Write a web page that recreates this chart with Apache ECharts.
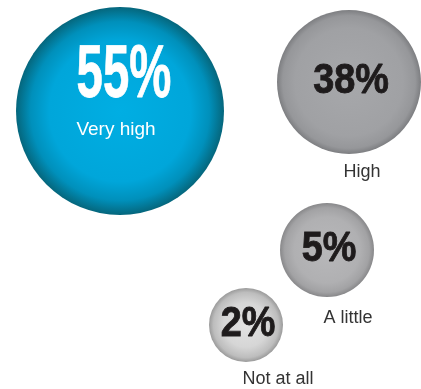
<!DOCTYPE html>
<html lang="en">
<head>
<meta charset="UTF-8">
<title>Bubbles</title>
<script src="https://cdn.jsdelivr.net/npm/echarts@6/dist/echarts.min.js"></script>
<style>
    html, body { margin: 0; padding: 0; background: #ffffff; }
    #chart { width: 421px; height: 389px; }
</style>
</head>
<body>
<div id="chart"></div>
<script>
    // 数据
    var categories = ['Very high', 'High', 'A little', 'Not at all'];
    var percents = [55, 38, 5, 2];

    // 气泡布局（坐标轴单位 = 像素）
    var bubbleX = [120, 349, 327, 246];
    var bubbleY = [111, 82, 250, 325];
    var bubbleR = [104, 72, 47, 37];

    // 颜色：中心 -> 边缘
    var bubbleStops = [
        [[0, '#00aee3'], [0.68, '#00a6da'], [0.86, '#0090bb'], [1, '#05667c']],
        [[0, '#a7a8ab'], [0.75, '#a0a1a4'], [0.92, '#96979a'], [1, '#7d7e81']],
        [[0, '#b8b8ba'], [0.7, '#b0b0b2'], [0.9, '#a2a2a4'], [1, '#88888a']],
        [[0, '#e2e2e2'], [0.6, '#d6d6d6'], [0.88, '#bdbdbd'], [1, '#9a9a9a']]
    ];

    var chart = echarts.init(document.getElementById('chart'));

    var seriesData = percents.map(function (v, i) {
        return [bubbleX[i], bubbleY[i], v];
    });

    function stopsToGradient(stops) {
        return new echarts.graphic.RadialGradient(0.5, 0.5, 0.5, stops.map(function (s) {
            return { offset: s[0], color: s[1] };
        }));
    }

    function renderItem(params, api) {
        var i = params.dataIndex;
        var p = api.coord([api.value(0), api.value(1)]);
        var r = bubbleR[i];
        var pct = api.value(2) + '%';
        var children = [{
            type: 'circle',
            shape: { cx: p[0], cy: p[1], r: r },
            style: { fill: stopsToGradient(bubbleStops[i]) }
        }];
        if (i === 0) {
            // 大气泡：文字在内部
            children.push({
                type: 'text',
                x: p[0] + 4, y: p[1] - 34,
                scaleX: 0.64,
                style: {
                    text: pct, fill: '#ffffff',
                    stroke: '#ffffff', lineWidth: 0.8,
                    font: 'bold 74px "Liberation Sans", Arial, sans-serif',
                    align: 'center', verticalAlign: 'middle'
                }
            });
            children.push({
                type: 'text',
                x: p[0] - 4, y: p[1] + 19,
                style: {
                    text: categories[i], fill: '#ffffff',
                    font: '19px "Liberation Sans", Arial, sans-serif',
                    align: 'center', verticalAlign: 'middle'
                }
            });
        } else {
            children.push({
                type: 'text',
                x: p[0] + 2, y: p[1] - 1,
                scaleX: 0.9,
                style: {
                    text: pct, fill: '#1e1b1c',
                    stroke: '#1e1b1c', lineWidth: 0.9,
                    font: 'bold 42px "Liberation Sans", Arial, sans-serif',
                    align: 'center', verticalAlign: 'middle'
                }
            });
        }
        return { type: 'group', children: children };
    }

    // 类别标签（气泡下方偏右）
    var labelDX = [0, 13, 21, 32];
    var labelDY = [0, 90, 68, 54];

    function renderLabel(params, api) {
        var i = params.dataIndex;
        if (i === 0) return null;
        var p = api.coord([api.value(0), api.value(1)]);
        return {
            type: 'text',
            x: p[0] + labelDX[i], y: p[1] + labelDY[i],
            style: {
                text: categories[i], fill: '#333333',
                font: '18px "Liberation Sans", Arial, sans-serif',
                align: 'center', verticalAlign: 'middle'
            }
        };
    }

    chart.setOption({
        animation: false,
        grid: { left: 0, right: 0, top: 0, bottom: 0 },
        xAxis: { type: 'value', min: 0, max: 421, show: false },
        yAxis: { type: 'value', min: 0, max: 389, inverse: true, show: false },
        series: [
            { type: 'custom', renderItem: renderItem, data: seriesData },
            { type: 'custom', renderItem: renderLabel, data: seriesData }
        ]
    });
</script>
</body>
</html>
